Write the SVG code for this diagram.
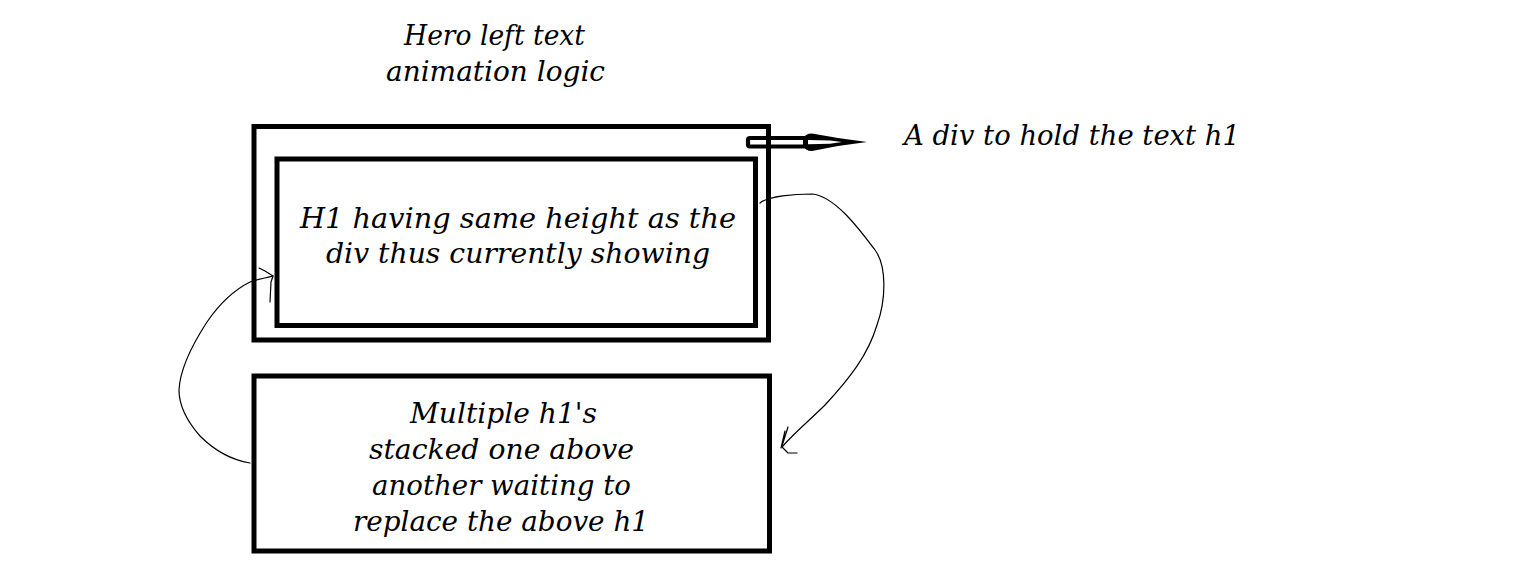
<svg xmlns="http://www.w3.org/2000/svg" width="1522" height="584" viewBox="0 0 1522 584">
<style>
.box{fill:none;stroke:#000;stroke-width:5}
.t{font-family:"DejaVu Serif",serif;font-style:italic;font-size:27px;fill:#000}
.c{text-anchor:middle}
.line{fill:none;stroke:#000;stroke-width:1.2;stroke-linecap:round;stroke-linejoin:round}
</style>
<rect width="1522" height="584" fill="#fff"/>
<g id="title">
<text class="t c" x="494.5" y="45" textLength="181" lengthAdjust="spacingAndGlyphs">Hero left text</text>
<text class="t c" x="495.5" y="81" textLength="219" lengthAdjust="spacingAndGlyphs">animation logic</text>
</g>
<g id="connectors">
<g id="arrow-div">
<rect x="748" y="138" width="58" height="8.5" rx="2" fill="#fff" stroke="#000" stroke-width="4.2"/>
<path d="M803,139 Q805,133.5 812,133.5 L838,138 L867,142 L838,146 L812,151 Q805,151 803,145 Z" fill="#000"/>
<path d="M808,140 L830,140.5 L842,142 L830,143.8 L808,144.2 Z" fill="#fff"/>
</g>
<path class="line" d="M760,203 C768,196 795,194 812,194 C835,196 860,230 875,250 C887,266 886,300 877,325 C868,355 850,378 825,405 C810,420 795,432 782,447 L788,453 L797,453"/>
<path class="line" d="M781,448 L785,431 M782,446 L788,427"/>
<path class="line" d="M250,463 C232,460 214,450 200,436 C186,420 179,405 179,390 C180,370 192,345 207,322 C220,303 234,290 250,282 C258,279 266,278 273,276"/>
<path class="line" d="M259,268 L265,271 L273,276 L271,282 L270,302"/>
</g>
<g id="div-outer">
<rect class="box" x="254" y="126.5" width="514.5" height="213.5"/>
<text class="t" x="904" y="145" textLength="336" lengthAdjust="spacingAndGlyphs">A div to hold the text h1</text>
</g>
<g id="h1-current">
<rect class="box" x="277" y="159" width="478.5" height="166.5"/>
<text class="t c" x="518" y="228" textLength="436" lengthAdjust="spacingAndGlyphs">H1 having same height as the</text>
<text class="t c" x="518" y="263" textLength="384" lengthAdjust="spacingAndGlyphs">div thus currently showing</text>
</g>
<g id="h1-stack">
<rect class="box" x="254" y="376" width="515.5" height="175"/>
<text class="t c" x="503.5" y="423" textLength="187" lengthAdjust="spacingAndGlyphs">Multiple h1's</text>
<text class="t c" x="501.5" y="459" textLength="265" lengthAdjust="spacingAndGlyphs">stacked one above</text>
<text class="t c" x="501.5" y="495" textLength="259" lengthAdjust="spacingAndGlyphs">another waiting to</text>
<text class="t c" x="501" y="531" textLength="296" lengthAdjust="spacingAndGlyphs">replace the above h1</text>
</g>
</svg>
